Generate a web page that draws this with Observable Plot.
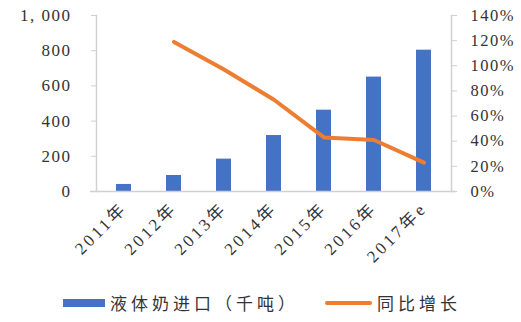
<!DOCTYPE html>
<html>
<head>
<meta charset="utf-8">
<script src="https://cdn.jsdelivr.net/npm/d3@7"></script>
<script src="https://cdn.jsdelivr.net/npm/@observablehq/plot@0.6"></script>
<style>
  body { margin: 0; background: #fff; }
  #wrap { position: relative; width: 521px; height: 322px; overflow: hidden; }
  #legend { position: absolute; left: 63px; top: 290px; display: flex; align-items: center;
    font-family: 'Noto Sans CJK SC', sans-serif; font-size: 17px; letter-spacing: 4px; color: #333; }
  .sw { display: inline-block; }
  svg text { font-family: 'Liberation Serif', 'Noto Sans CJK SC', serif; }
  g[aria-label="y-axis tick label"] text { letter-spacing: 1.5px; }
  g[aria-label="x-axis tick label"] text { letter-spacing: 3px; }
</style>
</head>
<body>
<div id="wrap">
  <div id="chart"></div>
  <div id="legend"></div>
</div>
<script>
const years = ["2011年", "2012年", "2013年", "2014年", "2015年", "2016年", "2017年e"];
const imports = [40, 91, 184, 318, 462, 650, 803];           // 液体奶进口（千吨）
const growthYears = ["2012年", "2013年", "2014年", "2015年", "2016年", "2017年e"];
const growth = [119, 97, 73, 43, 41, 23];                     // 同比增长 (%)
const leftTicks = [0, 200, 400, 600, 800, 1000];
const rightTicks = [0, 20, 40, 60, 80, 100, 120, 140];
const seriesNames = ["液体奶进口（千吨）", "同比增长"];
const colors = ["#4472C4", "#ED7D31"];

const leftMax = 1000, rightMax = 140;
const toLeft = p => p * leftMax / rightMax;

const barData = years.map((y, i) => ({year: y, value: imports[i]}));
const lineData = growthYears.map((y, i) => ({year: y, value: toLeft(growth[i])}));

const axisColor = "#d0d0d0";
const textColor = "#333";
const serif = "'Liberation Serif', 'Noto Sans CJK SC', serif";

const chart = Plot.plot({
  width: 521,
  height: 280,
  marginTop: 15,
  marginBottom: 89,
  marginLeft: 96,
  marginRight: 70,
  style: { fontFamily: serif, fontSize: "17px", color: textColor, background: "transparent" },
  x: { domain: years, paddingInner: 0.7, paddingOuter: 0.35, align: 0.5 },
  y: { domain: [0, leftMax] },
  marks: [
    Plot.barY(barData, { x: "year", y: "value", fill: colors[0] }),
    Plot.frame({ anchor: "left", stroke: axisColor, strokeWidth: 1.5 }),
    Plot.frame({ anchor: "right", stroke: axisColor, strokeWidth: 1.5 }),
    Plot.ruleY([0], { stroke: axisColor, strokeWidth: 1.5, insetLeft: -6, insetRight: -5 }),
    Plot.axisY({ anchor: "left", ticks: leftTicks, tickSize: 5, tickPadding: 20, stroke: axisColor, fill: textColor,
      fontFamily: serif, fontSize: 17,
      tickFormat: d => d3.format(",")(d).replace(",", ", "), label: null }),
    Plot.axisY({ anchor: "right", ticks: rightTicks.map(toLeft), tickSize: 5, tickPadding: 14, stroke: axisColor, fill: textColor,
      fontFamily: serif, fontSize: 16.5,
      tickFormat: d => Math.round(d * rightMax / leftMax) + "%", label: null }),
    Plot.axisX({ anchor: "bottom", tickSize: 0, tickRotate: -45, tickPadding: 14, fill: textColor, label: null,
      fontFamily: serif, fontSize: 17 }),
    Plot.lineY(lineData, { x: "year", y: "value", stroke: colors[1], strokeWidth: 4, strokeLinecap: "round", strokeLinejoin: "round" })
  ]
});
document.getElementById("chart").appendChild(chart);

const legend = document.getElementById("legend");
seriesNames.forEach((name, i) => {
  const item = document.createElement("span");
  item.style.display = "inline-flex";
  item.style.alignItems = "center";
  item.style.marginRight = i === 0 ? "26px" : "0";
  const sw = document.createElement("span");
  sw.className = "sw";
  sw.style.width = i === 0 ? "42px" : "47px";
  sw.style.height = i === 0 ? "8px" : "4px";
  sw.style.borderRadius = i === 0 ? "0" : "2px";
  sw.style.background = colors[i];
  sw.style.marginRight = "5px";
  const t = document.createElement("span");
  t.textContent = name;
  item.appendChild(sw);
  item.appendChild(t);
  legend.appendChild(item);
});
</script>
</body>
</html>
